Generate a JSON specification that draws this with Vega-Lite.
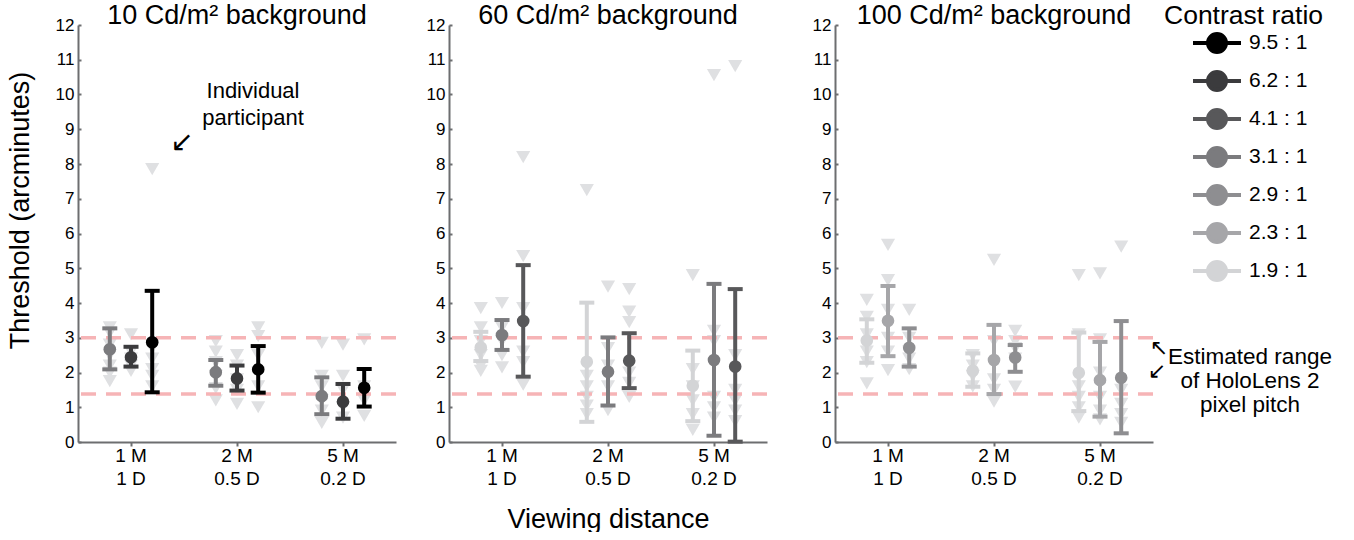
{
"$schema": "https://vega.github.io/schema/vega-lite/v6.json",
"padding": {"left": 6, "top": 2, "right": 0, "bottom": 0},
"spacing": 28,
"datasets": {
"pitch": [{"pitch": 1.38}, {"pitch": 3.0}],
"summary": [
{"lum": 10, "dist": "1 M|1 D", "contrast": "3.1 : 1", "mean": 2.67, "lo": 2.09, "hi": 3.27},
{"lum": 10, "dist": "1 M|1 D", "contrast": "6.2 : 1", "mean": 2.44, "lo": 2.17, "hi": 2.74},
{"lum": 10, "dist": "1 M|1 D", "contrast": "9.5 : 1", "mean": 2.87, "lo": 1.43, "hi": 4.35},
{"lum": 10, "dist": "2 M|0.5 D", "contrast": "3.1 : 1", "mean": 2.01, "lo": 1.62, "hi": 2.36},
{"lum": 10, "dist": "2 M|0.5 D", "contrast": "6.2 : 1", "mean": 1.83, "lo": 1.48, "hi": 2.2},
{"lum": 10, "dist": "2 M|0.5 D", "contrast": "9.5 : 1", "mean": 2.09, "lo": 1.42, "hi": 2.76},
{"lum": 10, "dist": "5 M|0.2 D", "contrast": "3.1 : 1", "mean": 1.32, "lo": 0.8, "hi": 1.86},
{"lum": 10, "dist": "5 M|0.2 D", "contrast": "6.2 : 1", "mean": 1.16, "lo": 0.67, "hi": 1.67},
{"lum": 10, "dist": "5 M|0.2 D", "contrast": "9.5 : 1", "mean": 1.56, "lo": 1.02, "hi": 2.1},
{"lum": 60, "dist": "1 M|1 D", "contrast": "1.9 : 1", "mean": 2.72, "lo": 2.33, "hi": 3.17},
{"lum": 60, "dist": "1 M|1 D", "contrast": "3.1 : 1", "mean": 3.08, "lo": 2.65, "hi": 3.51},
{"lum": 60, "dist": "1 M|1 D", "contrast": "4.1 : 1", "mean": 3.48, "lo": 1.88, "hi": 5.09},
{"lum": 60, "dist": "2 M|0.5 D", "contrast": "1.9 : 1", "mean": 2.31, "lo": 0.58, "hi": 4.01},
{"lum": 60, "dist": "2 M|0.5 D", "contrast": "3.1 : 1", "mean": 2.02, "lo": 1.05, "hi": 3.01},
{"lum": 60, "dist": "2 M|0.5 D", "contrast": "4.1 : 1", "mean": 2.34, "lo": 1.55, "hi": 3.13},
{"lum": 60, "dist": "5 M|0.2 D", "contrast": "1.9 : 1", "mean": 1.62, "lo": 0.6, "hi": 2.63},
{"lum": 60, "dist": "5 M|0.2 D", "contrast": "3.1 : 1", "mean": 2.36, "lo": 0.18, "hi": 4.55},
{"lum": 60, "dist": "5 M|0.2 D", "contrast": "4.1 : 1", "mean": 2.17, "lo": 0.01, "hi": 4.4},
{"lum": 100, "dist": "1 M|1 D", "contrast": "1.9 : 1", "mean": 2.92, "lo": 2.28, "hi": 3.53},
{"lum": 100, "dist": "1 M|1 D", "contrast": "2.3 : 1", "mean": 3.49, "lo": 2.47, "hi": 4.49},
{"lum": 100, "dist": "1 M|1 D", "contrast": "2.9 : 1", "mean": 2.71, "lo": 2.17, "hi": 3.27},
{"lum": 100, "dist": "2 M|0.5 D", "contrast": "1.9 : 1", "mean": 2.05, "lo": 1.59, "hi": 2.55},
{"lum": 100, "dist": "2 M|0.5 D", "contrast": "2.3 : 1", "mean": 2.36, "lo": 1.38, "hi": 3.37},
{"lum": 100, "dist": "2 M|0.5 D", "contrast": "2.9 : 1", "mean": 2.43, "lo": 2.02, "hi": 2.79},
{"lum": 100, "dist": "5 M|0.2 D", "contrast": "1.9 : 1", "mean": 1.99, "lo": 0.89, "hi": 3.15},
{"lum": 100, "dist": "5 M|0.2 D", "contrast": "2.3 : 1", "mean": 1.78, "lo": 0.73, "hi": 2.88},
{"lum": 100, "dist": "5 M|0.2 D", "contrast": "2.9 : 1", "mean": 1.85, "lo": 0.25, "hi": 3.48}
],
"subjects": [
{"lum": 10, "dist": "1 M|1 D", "contrast": "3.1 : 1", "threshold": 3.3},
{"lum": 10, "dist": "1 M|1 D", "contrast": "3.1 : 1", "threshold": 3.15},
{"lum": 10, "dist": "1 M|1 D", "contrast": "3.1 : 1", "threshold": 2.8},
{"lum": 10, "dist": "1 M|1 D", "contrast": "3.1 : 1", "threshold": 2.5},
{"lum": 10, "dist": "1 M|1 D", "contrast": "3.1 : 1", "threshold": 2.2},
{"lum": 10, "dist": "1 M|1 D", "contrast": "3.1 : 1", "threshold": 2.0},
{"lum": 10, "dist": "1 M|1 D", "contrast": "3.1 : 1", "threshold": 1.75},
{"lum": 10, "dist": "1 M|1 D", "contrast": "6.2 : 1", "threshold": 3.1},
{"lum": 10, "dist": "1 M|1 D", "contrast": "6.2 : 1", "threshold": 2.6},
{"lum": 10, "dist": "1 M|1 D", "contrast": "6.2 : 1", "threshold": 2.4},
{"lum": 10, "dist": "1 M|1 D", "contrast": "6.2 : 1", "threshold": 2.2},
{"lum": 10, "dist": "1 M|1 D", "contrast": "6.2 : 1", "threshold": 2.05},
{"lum": 10, "dist": "1 M|1 D", "contrast": "9.5 : 1", "threshold": 7.85},
{"lum": 10, "dist": "1 M|1 D", "contrast": "9.5 : 1", "threshold": 2.7},
{"lum": 10, "dist": "1 M|1 D", "contrast": "9.5 : 1", "threshold": 2.4},
{"lum": 10, "dist": "1 M|1 D", "contrast": "9.5 : 1", "threshold": 2.1},
{"lum": 10, "dist": "1 M|1 D", "contrast": "9.5 : 1", "threshold": 1.9},
{"lum": 10, "dist": "1 M|1 D", "contrast": "9.5 : 1", "threshold": 1.6},
{"lum": 10, "dist": "2 M|0.5 D", "contrast": "3.1 : 1", "threshold": 2.9},
{"lum": 10, "dist": "2 M|0.5 D", "contrast": "3.1 : 1", "threshold": 2.6},
{"lum": 10, "dist": "2 M|0.5 D", "contrast": "3.1 : 1", "threshold": 2.3},
{"lum": 10, "dist": "2 M|0.5 D", "contrast": "3.1 : 1", "threshold": 1.9},
{"lum": 10, "dist": "2 M|0.5 D", "contrast": "3.1 : 1", "threshold": 1.55},
{"lum": 10, "dist": "2 M|0.5 D", "contrast": "3.1 : 1", "threshold": 1.2},
{"lum": 10, "dist": "2 M|0.5 D", "contrast": "6.2 : 1", "threshold": 2.5},
{"lum": 10, "dist": "2 M|0.5 D", "contrast": "6.2 : 1", "threshold": 2.2},
{"lum": 10, "dist": "2 M|0.5 D", "contrast": "6.2 : 1", "threshold": 1.8},
{"lum": 10, "dist": "2 M|0.5 D", "contrast": "6.2 : 1", "threshold": 1.5},
{"lum": 10, "dist": "2 M|0.5 D", "contrast": "6.2 : 1", "threshold": 1.1},
{"lum": 10, "dist": "2 M|0.5 D", "contrast": "9.5 : 1", "threshold": 3.3},
{"lum": 10, "dist": "2 M|0.5 D", "contrast": "9.5 : 1", "threshold": 3.05},
{"lum": 10, "dist": "2 M|0.5 D", "contrast": "9.5 : 1", "threshold": 2.5},
{"lum": 10, "dist": "2 M|0.5 D", "contrast": "9.5 : 1", "threshold": 2.0},
{"lum": 10, "dist": "2 M|0.5 D", "contrast": "9.5 : 1", "threshold": 1.6},
{"lum": 10, "dist": "2 M|0.5 D", "contrast": "9.5 : 1", "threshold": 1.0},
{"lum": 10, "dist": "5 M|0.2 D", "contrast": "3.1 : 1", "threshold": 2.85},
{"lum": 10, "dist": "5 M|0.2 D", "contrast": "3.1 : 1", "threshold": 1.9},
{"lum": 10, "dist": "5 M|0.2 D", "contrast": "3.1 : 1", "threshold": 1.6},
{"lum": 10, "dist": "5 M|0.2 D", "contrast": "3.1 : 1", "threshold": 1.2},
{"lum": 10, "dist": "5 M|0.2 D", "contrast": "3.1 : 1", "threshold": 0.9},
{"lum": 10, "dist": "5 M|0.2 D", "contrast": "3.1 : 1", "threshold": 0.55},
{"lum": 10, "dist": "5 M|0.2 D", "contrast": "6.2 : 1", "threshold": 2.8},
{"lum": 10, "dist": "5 M|0.2 D", "contrast": "6.2 : 1", "threshold": 1.9},
{"lum": 10, "dist": "5 M|0.2 D", "contrast": "6.2 : 1", "threshold": 1.5},
{"lum": 10, "dist": "5 M|0.2 D", "contrast": "6.2 : 1", "threshold": 1.0},
{"lum": 10, "dist": "5 M|0.2 D", "contrast": "6.2 : 1", "threshold": 0.7},
{"lum": 10, "dist": "5 M|0.2 D", "contrast": "9.5 : 1", "threshold": 2.95},
{"lum": 10, "dist": "5 M|0.2 D", "contrast": "9.5 : 1", "threshold": 1.6},
{"lum": 10, "dist": "5 M|0.2 D", "contrast": "9.5 : 1", "threshold": 1.2},
{"lum": 10, "dist": "5 M|0.2 D", "contrast": "9.5 : 1", "threshold": 0.75},
{"lum": 60, "dist": "1 M|1 D", "contrast": "1.9 : 1", "threshold": 3.85},
{"lum": 60, "dist": "1 M|1 D", "contrast": "1.9 : 1", "threshold": 3.3},
{"lum": 60, "dist": "1 M|1 D", "contrast": "1.9 : 1", "threshold": 2.9},
{"lum": 60, "dist": "1 M|1 D", "contrast": "1.9 : 1", "threshold": 2.5},
{"lum": 60, "dist": "1 M|1 D", "contrast": "1.9 : 1", "threshold": 2.2},
{"lum": 60, "dist": "1 M|1 D", "contrast": "1.9 : 1", "threshold": 2.05},
{"lum": 60, "dist": "1 M|1 D", "contrast": "3.1 : 1", "threshold": 4.0},
{"lum": 60, "dist": "1 M|1 D", "contrast": "3.1 : 1", "threshold": 3.3},
{"lum": 60, "dist": "1 M|1 D", "contrast": "3.1 : 1", "threshold": 2.9},
{"lum": 60, "dist": "1 M|1 D", "contrast": "3.1 : 1", "threshold": 2.5},
{"lum": 60, "dist": "1 M|1 D", "contrast": "3.1 : 1", "threshold": 2.15},
{"lum": 60, "dist": "1 M|1 D", "contrast": "4.1 : 1", "threshold": 8.2},
{"lum": 60, "dist": "1 M|1 D", "contrast": "4.1 : 1", "threshold": 5.35},
{"lum": 60, "dist": "1 M|1 D", "contrast": "4.1 : 1", "threshold": 3.85},
{"lum": 60, "dist": "1 M|1 D", "contrast": "4.1 : 1", "threshold": 2.6},
{"lum": 60, "dist": "1 M|1 D", "contrast": "4.1 : 1", "threshold": 2.3},
{"lum": 60, "dist": "1 M|1 D", "contrast": "4.1 : 1", "threshold": 1.65},
{"lum": 60, "dist": "2 M|0.5 D", "contrast": "1.9 : 1", "threshold": 7.25},
{"lum": 60, "dist": "2 M|0.5 D", "contrast": "1.9 : 1", "threshold": 1.9},
{"lum": 60, "dist": "2 M|0.5 D", "contrast": "1.9 : 1", "threshold": 1.6},
{"lum": 60, "dist": "2 M|0.5 D", "contrast": "1.9 : 1", "threshold": 1.3},
{"lum": 60, "dist": "2 M|0.5 D", "contrast": "1.9 : 1", "threshold": 1.05},
{"lum": 60, "dist": "2 M|0.5 D", "contrast": "1.9 : 1", "threshold": 0.8},
{"lum": 60, "dist": "2 M|0.5 D", "contrast": "3.1 : 1", "threshold": 4.47},
{"lum": 60, "dist": "2 M|0.5 D", "contrast": "3.1 : 1", "threshold": 2.7},
{"lum": 60, "dist": "2 M|0.5 D", "contrast": "3.1 : 1", "threshold": 2.2},
{"lum": 60, "dist": "2 M|0.5 D", "contrast": "3.1 : 1", "threshold": 1.6},
{"lum": 60, "dist": "2 M|0.5 D", "contrast": "3.1 : 1", "threshold": 0.92},
{"lum": 60, "dist": "2 M|0.5 D", "contrast": "4.1 : 1", "threshold": 4.4},
{"lum": 60, "dist": "2 M|0.5 D", "contrast": "4.1 : 1", "threshold": 3.75},
{"lum": 60, "dist": "2 M|0.5 D", "contrast": "4.1 : 1", "threshold": 3.45},
{"lum": 60, "dist": "2 M|0.5 D", "contrast": "4.1 : 1", "threshold": 2.0},
{"lum": 60, "dist": "2 M|0.5 D", "contrast": "4.1 : 1", "threshold": 1.7},
{"lum": 60, "dist": "2 M|0.5 D", "contrast": "4.1 : 1", "threshold": 1.3},
{"lum": 60, "dist": "5 M|0.2 D", "contrast": "1.9 : 1", "threshold": 4.8},
{"lum": 60, "dist": "5 M|0.2 D", "contrast": "1.9 : 1", "threshold": 2.1},
{"lum": 60, "dist": "5 M|0.2 D", "contrast": "1.9 : 1", "threshold": 1.6},
{"lum": 60, "dist": "5 M|0.2 D", "contrast": "1.9 : 1", "threshold": 1.2},
{"lum": 60, "dist": "5 M|0.2 D", "contrast": "1.9 : 1", "threshold": 0.8},
{"lum": 60, "dist": "5 M|0.2 D", "contrast": "1.9 : 1", "threshold": 0.35},
{"lum": 60, "dist": "5 M|0.2 D", "contrast": "3.1 : 1", "threshold": 10.56},
{"lum": 60, "dist": "5 M|0.2 D", "contrast": "3.1 : 1", "threshold": 3.2},
{"lum": 60, "dist": "5 M|0.2 D", "contrast": "3.1 : 1", "threshold": 2.9},
{"lum": 60, "dist": "5 M|0.2 D", "contrast": "3.1 : 1", "threshold": 1.3},
{"lum": 60, "dist": "5 M|0.2 D", "contrast": "3.1 : 1", "threshold": 1.0},
{"lum": 60, "dist": "5 M|0.2 D", "contrast": "3.1 : 1", "threshold": 0.7},
{"lum": 60, "dist": "5 M|0.2 D", "contrast": "4.1 : 1", "threshold": 10.82},
{"lum": 60, "dist": "5 M|0.2 D", "contrast": "4.1 : 1", "threshold": 2.5},
{"lum": 60, "dist": "5 M|0.2 D", "contrast": "4.1 : 1", "threshold": 1.5},
{"lum": 60, "dist": "5 M|0.2 D", "contrast": "4.1 : 1", "threshold": 1.2},
{"lum": 60, "dist": "5 M|0.2 D", "contrast": "4.1 : 1", "threshold": 0.9},
{"lum": 60, "dist": "5 M|0.2 D", "contrast": "4.1 : 1", "threshold": 0.6},
{"lum": 100, "dist": "1 M|1 D", "contrast": "1.9 : 1", "threshold": 4.09},
{"lum": 100, "dist": "1 M|1 D", "contrast": "1.9 : 1", "threshold": 3.6},
{"lum": 100, "dist": "1 M|1 D", "contrast": "1.9 : 1", "threshold": 3.1},
{"lum": 100, "dist": "1 M|1 D", "contrast": "1.9 : 1", "threshold": 2.6},
{"lum": 100, "dist": "1 M|1 D", "contrast": "1.9 : 1", "threshold": 2.3},
{"lum": 100, "dist": "1 M|1 D", "contrast": "1.9 : 1", "threshold": 1.69},
{"lum": 100, "dist": "1 M|1 D", "contrast": "2.3 : 1", "threshold": 5.67},
{"lum": 100, "dist": "1 M|1 D", "contrast": "2.3 : 1", "threshold": 4.66},
{"lum": 100, "dist": "1 M|1 D", "contrast": "2.3 : 1", "threshold": 3.8},
{"lum": 100, "dist": "1 M|1 D", "contrast": "2.3 : 1", "threshold": 3.0},
{"lum": 100, "dist": "1 M|1 D", "contrast": "2.3 : 1", "threshold": 2.6},
{"lum": 100, "dist": "1 M|1 D", "contrast": "2.3 : 1", "threshold": 2.07},
{"lum": 100, "dist": "1 M|1 D", "contrast": "2.9 : 1", "threshold": 3.8},
{"lum": 100, "dist": "1 M|1 D", "contrast": "2.9 : 1", "threshold": 3.0},
{"lum": 100, "dist": "1 M|1 D", "contrast": "2.9 : 1", "threshold": 2.6},
{"lum": 100, "dist": "1 M|1 D", "contrast": "2.9 : 1", "threshold": 2.4},
{"lum": 100, "dist": "1 M|1 D", "contrast": "2.9 : 1", "threshold": 2.1},
{"lum": 100, "dist": "2 M|0.5 D", "contrast": "1.9 : 1", "threshold": 2.5},
{"lum": 100, "dist": "2 M|0.5 D", "contrast": "1.9 : 1", "threshold": 2.2},
{"lum": 100, "dist": "2 M|0.5 D", "contrast": "1.9 : 1", "threshold": 1.9},
{"lum": 100, "dist": "2 M|0.5 D", "contrast": "1.9 : 1", "threshold": 1.6},
{"lum": 100, "dist": "2 M|0.5 D", "contrast": "2.3 : 1", "threshold": 5.24},
{"lum": 100, "dist": "2 M|0.5 D", "contrast": "2.3 : 1", "threshold": 2.9},
{"lum": 100, "dist": "2 M|0.5 D", "contrast": "2.3 : 1", "threshold": 1.8},
{"lum": 100, "dist": "2 M|0.5 D", "contrast": "2.3 : 1", "threshold": 1.5},
{"lum": 100, "dist": "2 M|0.5 D", "contrast": "2.3 : 1", "threshold": 1.16},
{"lum": 100, "dist": "2 M|0.5 D", "contrast": "2.9 : 1", "threshold": 3.2},
{"lum": 100, "dist": "2 M|0.5 D", "contrast": "2.9 : 1", "threshold": 2.9},
{"lum": 100, "dist": "2 M|0.5 D", "contrast": "2.9 : 1", "threshold": 2.7},
{"lum": 100, "dist": "2 M|0.5 D", "contrast": "2.9 : 1", "threshold": 2.4},
{"lum": 100, "dist": "2 M|0.5 D", "contrast": "2.9 : 1", "threshold": 1.59},
{"lum": 100, "dist": "5 M|0.2 D", "contrast": "1.9 : 1", "threshold": 4.8},
{"lum": 100, "dist": "5 M|0.2 D", "contrast": "1.9 : 1", "threshold": 3.1},
{"lum": 100, "dist": "5 M|0.2 D", "contrast": "1.9 : 1", "threshold": 1.6},
{"lum": 100, "dist": "5 M|0.2 D", "contrast": "1.9 : 1", "threshold": 1.3},
{"lum": 100, "dist": "5 M|0.2 D", "contrast": "1.9 : 1", "threshold": 1.0},
{"lum": 100, "dist": "5 M|0.2 D", "contrast": "1.9 : 1", "threshold": 0.7},
{"lum": 100, "dist": "5 M|0.2 D", "contrast": "2.3 : 1", "threshold": 4.85},
{"lum": 100, "dist": "5 M|0.2 D", "contrast": "2.3 : 1", "threshold": 2.95},
{"lum": 100, "dist": "5 M|0.2 D", "contrast": "2.3 : 1", "threshold": 2.0},
{"lum": 100, "dist": "5 M|0.2 D", "contrast": "2.3 : 1", "threshold": 1.3},
{"lum": 100, "dist": "5 M|0.2 D", "contrast": "2.3 : 1", "threshold": 0.9},
{"lum": 100, "dist": "5 M|0.2 D", "contrast": "2.3 : 1", "threshold": 0.65},
{"lum": 100, "dist": "5 M|0.2 D", "contrast": "2.9 : 1", "threshold": 5.62},
{"lum": 100, "dist": "5 M|0.2 D", "contrast": "2.9 : 1", "threshold": 1.5},
{"lum": 100, "dist": "5 M|0.2 D", "contrast": "2.9 : 1", "threshold": 1.1},
{"lum": 100, "dist": "5 M|0.2 D", "contrast": "2.9 : 1", "threshold": 0.8},
{"lum": 100, "dist": "5 M|0.2 D", "contrast": "2.9 : 1", "threshold": 0.55}
]
},
"resolve": {"scale": {"x": "independent", "y": "independent", "xOffset": "independent"}},
"hconcat": [
{
"width": 318, "height": 417,
"title": {"text": "10 Cd/m² background"},
"layer": [
{"data": {"name": "subjects"}, "transform": [{"filter": "datum.lum == 10"}],
 "mark": {"type": "point", "shape": "triangle-down", "filled": true, "size": 200, "color": "#dfe0e2", "opacity": 1, "strokeWidth": 0},
 "encoding": {
  "x": {"field": "dist", "type": "nominal", "title": null, "scale": {"type": "band", "paddingInner": 0, "paddingOuter": 0}, "axis": {"labelExpr": "split(datum.value, '|')", "labelLineHeight": 23}},
  "xOffset": {"field": "contrast", "type": "nominal", "scale": {"paddingInner": 0, "paddingOuter": 1}},
  "y": {"field": "threshold", "type": "quantitative", "title": "Threshold (arcminutes)", "scale": {"domain": [0, 12], "nice": false}, "axis": {"titleY": 185}}
 }},
{"data": {"name": "pitch"},
 "mark": {"type": "rule", "color": "#f6b4b6", "strokeWidth": 3.5, "strokeDash": [15, 10]},
 "encoding": {"y": {"field": "pitch", "type": "quantitative", "title": "Threshold (arcminutes)", "scale": {"domain": [0, 12], "nice": false}}}},
{"data": {"name": "summary"}, "transform": [{"filter": "datum.lum == 10"}],
 "encoding": {
  "x": {"field": "dist", "type": "nominal", "title": null, "scale": {"type": "band", "paddingInner": 0, "paddingOuter": 0}},
  "xOffset": {"field": "contrast", "type": "nominal", "scale": {"paddingInner": 0, "paddingOuter": 1}},
  "color": {"field": "contrast", "type": "nominal", "title": "Contrast ratio",
   "scale": {"domain": ["9.5 : 1", "6.2 : 1", "4.1 : 1", "3.1 : 1", "2.9 : 1", "2.3 : 1", "1.9 : 1"], "range": ["#000000", "#3b3b3d", "#58585a", "#7b7b7e", "#8e8e91", "#a6a6a9", "#d3d4d6"]},
   "legend": {"orient": "none", "legendX": 1086, "legendY": -22, "symbolType": "M-2.4,0H2.4M-0.9,0A0.9,0.9 0 1,1 0.9,0A0.9,0.9 0 1,1 -0.9,0Z", "symbolSize": 400, "symbolStrokeWidth": 4, "symbolOffset": 41, "labelOffset": 20, "labelFontSize": 21, "titleFontSize": 26.5, "titleFontWeight": "normal", "rowPadding": 4, "titlePadding": 1.5, "padding": 0,
     "encode": {"symbols": {"update": {"fill": {"scale": "color", "field": "value"}, "stroke": {"scale": "color", "field": "value"}, "strokeWidth": {"value": 4}, "opacity": {"value": 1}}}}}
  }
 },
 "layer": [
  {"mark": {"type": "rule", "strokeWidth": 4}, "encoding": {"y": {"field": "lo", "type": "quantitative", "title": "Threshold (arcminutes)", "scale": {"domain": [0, 12], "nice": false}}, "y2": {"field": "hi"}}},
  {"mark": {"type": "tick", "thickness": 4, "size": 15, "opacity": 1}, "encoding": {"y": {"field": "lo", "type": "quantitative", "title": "Threshold (arcminutes)"}}},
  {"mark": {"type": "tick", "thickness": 4, "size": 15, "opacity": 1}, "encoding": {"y": {"field": "hi", "type": "quantitative", "title": "Threshold (arcminutes)"}}},
  {"mark": {"type": "circle", "size": 160, "opacity": 1}, "encoding": {"y": {"field": "mean", "type": "quantitative", "title": "Threshold (arcminutes)"}}}
 ]},
{"data": {"values": [{"note": ["Individual", "participant"]}]},
 "mark": {"type": "text", "fontSize": 22, "lineHeight": 27, "align": "center", "baseline": "middle", "dx": 16, "color": "#000"},
 "encoding": {"x": {"datum": "2 M|0.5 D", "type": "nominal"}, "y": {"datum": 10.1, "type": "quantitative", "title": "Threshold (arcminutes)"}, "text": {"field": "note"}}},
{"data": {"values": [{"note": "↙"}]},
 "mark": {"type": "text", "font": "DejaVu Sans", "fontSize": 28, "align": "center", "baseline": "middle", "dx": 51, "color": "#000"},
 "encoding": {"x": {"datum": "1 M|1 D", "type": "nominal"}, "y": {"datum": 8.6, "type": "quantitative", "title": "Threshold (arcminutes)"}, "text": {"field": "note"}}}
]
},
{
"width": 318, "height": 417,
"title": {"text": "60 Cd/m² background"},
"layer": [
{"data": {"name": "subjects"}, "transform": [{"filter": "datum.lum == 60"}],
 "mark": {"type": "point", "shape": "triangle-down", "filled": true, "size": 200, "color": "#dfe0e2", "opacity": 1, "strokeWidth": 0},
 "encoding": {
  "x": {"field": "dist", "type": "nominal", "title": "Viewing distance", "scale": {"type": "band", "paddingInner": 0, "paddingOuter": 0}, "axis": {"labelExpr": "split(datum.value, '|')", "labelLineHeight": 23}},
  "xOffset": {"field": "contrast", "type": "nominal", "scale": {"paddingInner": 0, "paddingOuter": 1}},
  "y": {"field": "threshold", "type": "quantitative", "title": null, "scale": {"domain": [0, 12], "nice": false}}
 }},
{"data": {"name": "pitch"},
 "mark": {"type": "rule", "color": "#f6b4b6", "strokeWidth": 3.5, "strokeDash": [15, 10]},
 "encoding": {"y": {"field": "pitch", "type": "quantitative", "title": null, "scale": {"domain": [0, 12], "nice": false}}}},
{"data": {"name": "summary"}, "transform": [{"filter": "datum.lum == 60"}],
 "encoding": {
  "x": {"field": "dist", "type": "nominal", "title": "Viewing distance", "scale": {"type": "band", "paddingInner": 0, "paddingOuter": 0}},
  "xOffset": {"field": "contrast", "type": "nominal", "scale": {"paddingInner": 0, "paddingOuter": 1}},
  "color": {"field": "contrast", "type": "nominal", "title": "Contrast ratio",
   "scale": {"domain": ["9.5 : 1", "6.2 : 1", "4.1 : 1", "3.1 : 1", "2.9 : 1", "2.3 : 1", "1.9 : 1"], "range": ["#000000", "#3b3b3d", "#58585a", "#7b7b7e", "#8e8e91", "#a6a6a9", "#d3d4d6"]},
   "legend": {"orient": "none", "legendX": 1086, "legendY": -22, "symbolType": "M-2.4,0H2.4M-0.9,0A0.9,0.9 0 1,1 0.9,0A0.9,0.9 0 1,1 -0.9,0Z", "symbolSize": 400, "symbolStrokeWidth": 4, "symbolOffset": 41, "labelOffset": 20, "labelFontSize": 21, "titleFontSize": 26.5, "titleFontWeight": "normal", "rowPadding": 4, "titlePadding": 1.5, "padding": 0,
     "encode": {"symbols": {"update": {"fill": {"scale": "color", "field": "value"}, "stroke": {"scale": "color", "field": "value"}, "strokeWidth": {"value": 4}, "opacity": {"value": 1}}}}}
  }
 },
 "layer": [
  {"mark": {"type": "rule", "strokeWidth": 4}, "encoding": {"y": {"field": "lo", "type": "quantitative", "title": null, "scale": {"domain": [0, 12], "nice": false}}, "y2": {"field": "hi"}}},
  {"mark": {"type": "tick", "thickness": 4, "size": 15, "opacity": 1}, "encoding": {"y": {"field": "lo", "type": "quantitative", "title": null}}},
  {"mark": {"type": "tick", "thickness": 4, "size": 15, "opacity": 1}, "encoding": {"y": {"field": "hi", "type": "quantitative", "title": null}}},
  {"mark": {"type": "circle", "size": 160, "opacity": 1}, "encoding": {"y": {"field": "mean", "type": "quantitative", "title": null}}}
 ]}
]
},
{
"width": 318, "height": 417,
"title": {"text": "100 Cd/m² background"},
"layer": [
{"data": {"name": "subjects"}, "transform": [{"filter": "datum.lum == 100"}],
 "mark": {"type": "point", "shape": "triangle-down", "filled": true, "size": 200, "color": "#dfe0e2", "opacity": 1, "strokeWidth": 0},
 "encoding": {
  "x": {"field": "dist", "type": "nominal", "title": null, "scale": {"type": "band", "paddingInner": 0, "paddingOuter": 0}, "axis": {"labelExpr": "split(datum.value, '|')", "labelLineHeight": 23}},
  "xOffset": {"field": "contrast", "type": "nominal", "scale": {"paddingInner": 0, "paddingOuter": 1}},
  "y": {"field": "threshold", "type": "quantitative", "title": null, "scale": {"domain": [0, 12], "nice": false}, "axis": {"minExtent": 38}}
 }},
{"data": {"name": "pitch"},
 "mark": {"type": "rule", "color": "#f6b4b6", "strokeWidth": 3.5, "strokeDash": [15, 10]},
 "encoding": {"y": {"field": "pitch", "type": "quantitative", "title": null, "scale": {"domain": [0, 12], "nice": false}}}},
{"data": {"name": "summary"}, "transform": [{"filter": "datum.lum == 100"}],
 "encoding": {
  "x": {"field": "dist", "type": "nominal", "title": null, "scale": {"type": "band", "paddingInner": 0, "paddingOuter": 0}},
  "xOffset": {"field": "contrast", "type": "nominal", "scale": {"paddingInner": 0, "paddingOuter": 1}},
  "color": {"field": "contrast", "type": "nominal", "title": "Contrast ratio",
   "scale": {"domain": ["9.5 : 1", "6.2 : 1", "4.1 : 1", "3.1 : 1", "2.9 : 1", "2.3 : 1", "1.9 : 1"], "range": ["#000000", "#3b3b3d", "#58585a", "#7b7b7e", "#8e8e91", "#a6a6a9", "#d3d4d6"]},
   "legend": {"orient": "none", "legendX": 1086, "legendY": -22, "symbolType": "M-2.4,0H2.4M-0.9,0A0.9,0.9 0 1,1 0.9,0A0.9,0.9 0 1,1 -0.9,0Z", "symbolSize": 400, "symbolStrokeWidth": 4, "symbolOffset": 41, "labelOffset": 20, "labelFontSize": 21, "titleFontSize": 26.5, "titleFontWeight": "normal", "rowPadding": 4, "titlePadding": 1.5, "padding": 0,
     "encode": {"symbols": {"update": {"fill": {"scale": "color", "field": "value"}, "stroke": {"scale": "color", "field": "value"}, "strokeWidth": {"value": 4}, "opacity": {"value": 1}}}}}
  }
 },
 "layer": [
  {"mark": {"type": "rule", "strokeWidth": 4}, "encoding": {"y": {"field": "lo", "type": "quantitative", "title": null, "scale": {"domain": [0, 12], "nice": false}}, "y2": {"field": "hi"}}},
  {"mark": {"type": "tick", "thickness": 4, "size": 15, "opacity": 1}, "encoding": {"y": {"field": "lo", "type": "quantitative", "title": null}}},
  {"mark": {"type": "tick", "thickness": 4, "size": 15, "opacity": 1}, "encoding": {"y": {"field": "hi", "type": "quantitative", "title": null}}},
  {"mark": {"type": "circle", "size": 160, "opacity": 1}, "encoding": {"y": {"field": "mean", "type": "quantitative", "title": null}}}
 ]},
{"data": {"values": [{"note": ["Estimated range", "of HoloLens 2", "pixel pitch"]}]},
 "mark": {"type": "text", "fontSize": 22.5, "lineHeight": 24, "align": "center", "baseline": "middle", "dx": 150, "color": "#000"},
 "encoding": {"x": {"datum": "5 M|0.2 D", "type": "nominal"}, "y": {"datum": 2.45, "type": "quantitative", "title": null}, "text": {"field": "note"}}},
{"data": {"values": [{"note": "↖"}]},
 "mark": {"type": "text", "font": "DejaVu Sans", "fontSize": 22, "align": "center", "baseline": "middle", "dx": 59, "color": "#000"},
 "encoding": {"x": {"datum": "5 M|0.2 D", "type": "nominal"}, "y": {"datum": 2.7, "type": "quantitative", "title": null}, "text": {"field": "note"}}},
{"data": {"values": [{"note": "↙"}]},
 "mark": {"type": "text", "font": "DejaVu Sans", "fontSize": 22, "align": "center", "baseline": "middle", "dx": 57, "color": "#000"},
 "encoding": {"x": {"datum": "5 M|0.2 D", "type": "nominal"}, "y": {"datum": 2.05, "type": "quantitative", "title": null}, "text": {"field": "note"}}}
]
}
],
"config": {
 "font": "Liberation Sans",
 "view": {"stroke": null},
 "axis": {"grid": false, "domainColor": "#6d6e70", "domainWidth": 2, "tickColor": "#6d6e70", "tickWidth": 2, "labelColor": "#000", "labelFontSize": 17, "titleFontSize": 27, "titleFontWeight": "normal", "titleColor": "#000"},
 "axisY": {"tickSize": -3, "labelPadding": 7, "titlePadding": 21, "tickCount": 12, "labelOverlap": false},
 "axisX": {"tickSize": 4, "labelPadding": 0, "labelAngle": 0, "titlePadding": 18, "labelFontSize": 19},
 "title": {"fontSize": 27, "fontWeight": "normal", "color": "#000", "offset": -14},
 "text": {"font": "Liberation Sans"}
}
}
